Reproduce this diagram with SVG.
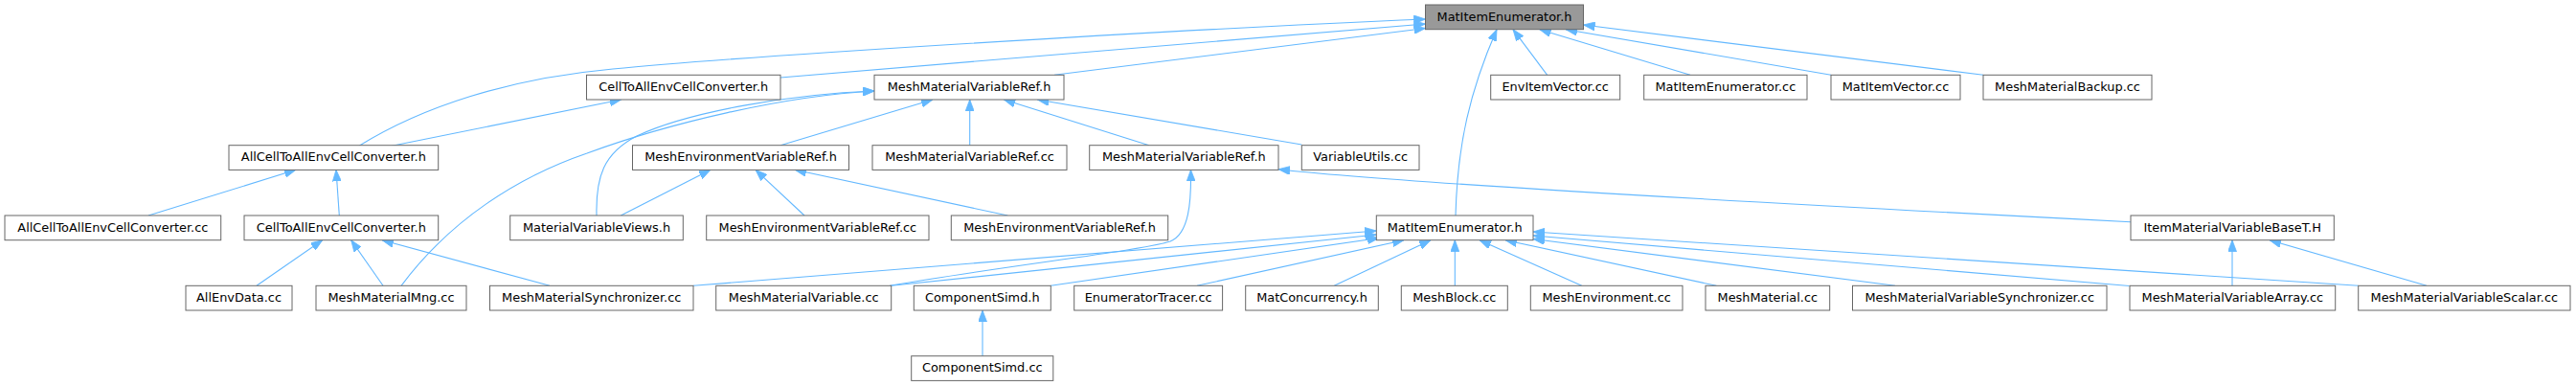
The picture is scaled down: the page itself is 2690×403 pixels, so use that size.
<svg xmlns="http://www.w3.org/2000/svg" width="2690" height="403" viewBox="0 0 2690 403">
<defs>
<style>
.n rect{fill:#fff;stroke:#666;stroke-width:1}
.n.cur rect{fill:#999}
.n text{font-family:"DejaVu Sans","Liberation Sans",sans-serif;font-size:12.9px;fill:#000;text-anchor:middle}
#edges path{fill:none;stroke:#63b8ff;stroke-width:1.1;marker-end:url(#ah)}
</style>
<marker id="ah" viewBox="0 0 12 9" refX="12" refY="4.5" markerWidth="12" markerHeight="9" markerUnits="userSpaceOnUse" orient="auto">
<path d="M0,0 L12,4.5 L0,9 z" fill="#63b8ff" stroke="#63b8ff" stroke-width="0.8"/>
</marker>
</defs>
<rect width="2690" height="403" fill="#fff"/>
<g id="edges">
<path d="M375,152.3 C440,112 530,82 640,72 C760,60 1200,32 1488.5,20"/>
<path d="M815,81 L1488.5,25"/>
<path d="M1101,78.3 L1488.5,29.5"/>
<path d="M1520,225 C1522,150 1535,95 1563,30.7"/>
<path d="M1615.7,78.3 L1580,30.7"/>
<path d="M1765,78.3 L1607.7,30.7"/>
<path d="M1912,78.3 L1635,30.7"/>
<path d="M2071,78.3 L1653.5,26"/>
<path d="M815,151.7 L974,104"/>
<path d="M1012.7,151.7 L1012.7,104"/>
<path d="M1200,151.7 L1048.3,104"/>
<path d="M1359.3,151 L1083.3,104"/>
<path d="M623,225 C622,185 630,160 665,142 C720,116 830,98 913,95"/>
<path d="M419,298.3 C470,230 540,185 613,160 C700,128 820,100 913,95"/>
<path d="M648.3,225 L742,177.3"/>
<path d="M840,225 L789,177.3"/>
<path d="M1052.3,225 L830,177.3"/>
<path d="M929,298.3 C1060,276 1190,262 1222,252 C1242,244 1244,210 1243.5,177.3"/>
<path d="M2225,231.7 C1800,210 1450,190 1335,176.7"/>
<path d="M409.3,152.3 L648.7,104"/>
<path d="M155,225 L309,177.3"/>
<path d="M354.3,225 L351,177.3"/>
<path d="M268,298.3 L336.7,250.7"/>
<path d="M400,298.3 L366.7,250.7"/>
<path d="M574,298.3 L399,250.7"/>
<path d="M724,298.3 L1437.3,241"/>
<path d="M930.7,298.3 L1437.3,245"/>
<path d="M1097.3,298.3 L1440,248.5"/>
<path d="M1250,298.3 L1466,250.7"/>
<path d="M1393.3,298.3 L1494,250.7"/>
<path d="M1519.3,298.3 L1519.3,250.7"/>
<path d="M1651.7,298.3 L1545,250.7"/>
<path d="M1792.3,298.3 L1572,250.7"/>
<path d="M1979,298.3 L1601,249.5"/>
<path d="M2223.5,298.5 L1601,246"/>
<path d="M2462.7,298.3 L1601,242"/>
<path d="M2331,298.3 L2331,250.7"/>
<path d="M2534,298.3 L2370,250.7"/>
<path d="M1026,371.7 L1026,324"/>
</g>
<g id="n_T" class="n cur"><rect x="1488.5" y="5" width="165" height="25.7"/><text x="1571" y="21.7">MatItemEnumerator.h</text></g>
<g id="n_C1" class="n"><rect x="612.5" y="78.3" width="202.5" height="25.7"/><text x="713.75" y="95">CellToAllEnvCellConverter.h</text></g>
<g id="n_M1" class="n"><rect x="913" y="78.3" width="198" height="25.7"/><text x="1012" y="95">MeshMaterialVariableRef.h</text></g>
<g id="n_EIV" class="n"><rect x="1556.7" y="78.3" width="135" height="25.7"/><text x="1624.2" y="95">EnvItemVector.cc</text></g>
<g id="n_MIEcc" class="n"><rect x="1716.7" y="78.3" width="170.3" height="25.7"/><text x="1801.85" y="95">MatItemEnumerator.cc</text></g>
<g id="n_MIV" class="n"><rect x="1912" y="78.3" width="135" height="25.7"/><text x="1979.5" y="95">MatItemVector.cc</text></g>
<g id="n_MMB" class="n"><rect x="2071" y="78.3" width="176" height="25.7"/><text x="2159" y="95">MeshMaterialBackup.cc</text></g>
<g id="n_A1" class="n"><rect x="239" y="151.7" width="218.7" height="25.7"/><text x="348.35" y="168.4">AllCellToAllEnvCellConverter.h</text></g>
<g id="n_E1" class="n"><rect x="660.5" y="151.7" width="226" height="25.7"/><text x="773.5" y="168.4">MeshEnvironmentVariableRef.h</text></g>
<g id="n_MMVRcc" class="n"><rect x="911" y="151.7" width="203" height="25.7"/><text x="1012.5" y="168.4">MeshMaterialVariableRef.cc</text></g>
<g id="n_M2" class="n"><rect x="1137.7" y="151.7" width="197.3" height="25.7"/><text x="1236.35" y="168.4">MeshMaterialVariableRef.h</text></g>
<g id="n_VU" class="n"><rect x="1359.3" y="151.7" width="122.7" height="25.7"/><text x="1420.65" y="168.4">VariableUtils.cc</text></g>
<g id="n_A1cc" class="n"><rect x="5" y="225" width="225.7" height="25.7"/><text x="117.85" y="241.7">AllCellToAllEnvCellConverter.cc</text></g>
<g id="n_C2" class="n"><rect x="255" y="225" width="202.7" height="25.7"/><text x="356.35" y="241.7">CellToAllEnvCellConverter.h</text></g>
<g id="n_MVV" class="n"><rect x="532.7" y="225" width="180.6" height="25.7"/><text x="623" y="241.7">MaterialVariableViews.h</text></g>
<g id="n_MEVRcc" class="n"><rect x="737.7" y="225" width="232.3" height="25.7"/><text x="853.85" y="241.7">MeshEnvironmentVariableRef.cc</text></g>
<g id="n_E2" class="n"><rect x="993.3" y="225" width="226.4" height="25.7"/><text x="1106.5" y="241.7">MeshEnvironmentVariableRef.h</text></g>
<g id="n_T2" class="n"><rect x="1437.3" y="225" width="163.7" height="25.7"/><text x="1519.15" y="241.7">MatItemEnumerator.h</text></g>
<g id="n_I" class="n"><rect x="2225" y="225" width="212.3" height="25.7"/><text x="2331.15" y="241.7">ItemMaterialVariableBaseT.H</text></g>
<g id="n_AED" class="n"><rect x="194" y="298.3" width="111" height="25.7"/><text x="249.5" y="315">AllEnvData.cc</text></g>
<g id="n_MMM" class="n"><rect x="330" y="298.3" width="157" height="25.7"/><text x="408.5" y="315">MeshMaterialMng.cc</text></g>
<g id="n_MMS" class="n"><rect x="511.5" y="298.3" width="212.5" height="25.7"/><text x="617.75" y="315">MeshMaterialSynchronizer.cc</text></g>
<g id="n_MMV" class="n"><rect x="747.7" y="298.3" width="183" height="25.7"/><text x="839.2" y="315">MeshMaterialVariable.cc</text></g>
<g id="n_CSh" class="n"><rect x="954.3" y="298.3" width="143" height="25.7"/><text x="1025.8" y="315">ComponentSimd.h</text></g>
<g id="n_ET" class="n"><rect x="1121.7" y="298.3" width="154.9" height="25.7"/><text x="1199.15" y="315">EnumeratorTracer.cc</text></g>
<g id="n_MC" class="n"><rect x="1300.7" y="298.3" width="138.6" height="25.7"/><text x="1370" y="315">MatConcurrency.h</text></g>
<g id="n_MB" class="n"><rect x="1463.3" y="298.3" width="111" height="25.7"/><text x="1518.8" y="315">MeshBlock.cc</text></g>
<g id="n_ME" class="n"><rect x="1598.3" y="298.3" width="158.7" height="25.7"/><text x="1677.65" y="315">MeshEnvironment.cc</text></g>
<g id="n_MM" class="n"><rect x="1781" y="298.3" width="129.7" height="25.7"/><text x="1845.85" y="315">MeshMaterial.cc</text></g>
<g id="n_MMVS" class="n"><rect x="1934.5" y="298.3" width="265.5" height="25.7"/><text x="2067.25" y="315">MeshMaterialVariableSynchronizer.cc</text></g>
<g id="n_MMVA" class="n"><rect x="2224" y="298.3" width="214.7" height="25.7"/><text x="2331.35" y="315">MeshMaterialVariableArray.cc</text></g>
<g id="n_MMVSc" class="n"><rect x="2462.7" y="298.3" width="221.3" height="25.7"/><text x="2573.35" y="315">MeshMaterialVariableScalar.cc</text></g>
<g id="n_CScc" class="n"><rect x="951.7" y="371.7" width="148.1" height="25.7"/><text x="1025.75" y="388.4">ComponentSimd.cc</text></g>
</svg>
